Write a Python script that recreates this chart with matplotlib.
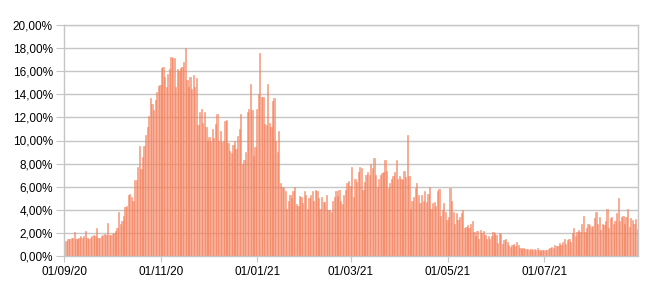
import matplotlib
matplotlib.use("Agg")
import matplotlib.pyplot as plt
import matplotlib.dates as mdates
import numpy as np
import pandas as pd
from matplotlib.ticker import FuncFormatter, MultipleLocator

# daily positivity rate (%), one list per month, Sep 2020 -> Aug 2021
sep20 = [1.3, 1.3, 1.5, 1.5, 1.6, 1.6, 2.1, 1.5, 1.5, 1.6, 1.7, 1.6, 1.7, 2.2, 1.6,
         1.5, 1.6, 1.7, 1.8, 1.7, 2.4, 1.6, 1.6, 1.7, 1.8, 1.9, 1.8, 2.9, 1.8, 1.8]
oct20 = [1.9, 2.0, 2.2, 2.4, 3.8, 2.8, 3.0, 3.5, 4.2, 4.3, 5.3, 5.4, 5.1, 4.8, 6.6,
         6.6, 7.7, 9.5, 7.5, 8.6, 9.5, 10.5, 11.2, 12.1, 13.7, 13.2, 12.6, 13.5, 14.2,
         14.7, 14.8]
nov20 = [16.3, 16.4, 15.5, 14.6, 15.8, 16.2, 17.2, 17.1, 17.1, 14.6, 16.2, 16.0, 16.3,
         16.4, 16.8, 18.0, 15.2, 14.6, 15.5, 14.5, 15.7, 14.6, 15.4, 11.3, 12.5, 12.7,
         11.5, 12.5, 11.2, 10.0]
dec20 = [10.3, 10.0, 11.0, 10.2, 11.4, 12.3, 10.0, 10.8, 9.9, 10.0, 11.7, 11.8, 9.8,
         9.1, 8.9, 9.6, 10.0, 9.3, 10.4, 11.0, 12.3, 8.0, 8.3, 9.0, 12.5, 12.7, 14.9,
         12.6, 8.7, 9.4, 12.7]
jan21 = [14.0, 17.6, 13.8, 13.8, 11.4, 11.3, 14.9, 11.5, 11.2, 13.4, 13.7, 10.0, 9.0,
         10.8, 6.3, 6.0, 5.9, 5.6, 4.1, 4.8, 5.3, 5.0, 5.6, 6.0, 4.5, 4.3, 5.2, 5.1,
         4.6, 5.6, 5.3]
feb21 = [4.1, 5.0, 5.3, 5.6, 4.8, 5.7, 5.6, 5.0, 4.1, 5.1, 4.7, 4.7, 5.3, 4.0, 4.0,
         3.8, 4.8, 5.1, 5.6, 5.2, 5.7, 4.8, 4.5, 5.3, 5.7, 6.3, 6.5, 6.1]
mar21 = [7.7, 5.1, 6.7, 6.4, 7.3, 7.7, 7.6, 5.7, 6.4, 7.0, 7.3, 7.0, 8.0, 7.6, 8.5,
         7.0, 6.0, 6.7, 7.0, 7.2, 7.3, 8.3, 7.4, 5.9, 6.3, 6.7, 6.9, 7.3, 8.3, 6.7, 6.9]
apr21 = [6.7, 6.6, 7.4, 6.8, 10.5, 6.9, 4.1, 4.8, 5.1, 5.9, 6.3, 5.3, 4.6, 5.3, 4.8,
         5.6, 4.7, 5.4, 6.0, 4.1, 4.6, 4.7, 4.3, 5.6, 5.8, 3.5, 4.0, 4.6, 3.8, 3.1]
may21 = [3.4, 5.9, 4.8, 3.8, 2.8, 3.7, 3.1, 3.4, 3.7, 4.0, 2.4, 2.5, 2.7, 2.4, 2.8,
         3.0, 2.1, 1.7, 2.2, 1.5, 2.25, 2.0, 2.2, 1.8, 1.5, 1.7, 1.5, 1.7, 2.1, 2.0, 1.8]
jun21 = [1.1, 2.0, 1.9, 1.0, 1.4, 1.5, 1.2, 0.95, 0.8, 0.95, 1.0, 0.9, 1.2, 0.95, 0.7,
         0.6, 0.66, 0.6, 0.6, 0.63, 0.5, 0.58, 0.5, 0.6, 0.5, 0.66, 0.5, 0.46, 0.5, 0.48]
jul21 = [0.5, 0.55, 0.6, 0.7, 0.8, 0.66, 0.95, 0.87, 0.9, 1.1, 0.95, 1.25, 1.5, 1.0,
         1.4, 1.5, 1.2, 2.0, 2.4, 1.7, 2.1, 2.25, 2.1, 2.8, 3.5, 2.1, 2.4, 2.8, 2.7,
         2.5, 2.6]
aug21 = [3.3, 3.8, 2.8, 3.4, 2.25, 2.8, 2.7, 3.0, 4.1, 2.4, 3.3, 3.4, 2.8, 3.0, 3.7,
         5.0, 3.0, 3.4, 3.5, 2.8, 3.4, 4.1, 2.5, 3.3, 3.1, 2.8, 3.2, 2.3]

tick_dates = ["2020-09-01", "2020-11-01", "2021-01-01", "2021-03-01", "2021-05-01", "2021-07-01"]

values = sep20 + oct20 + nov20 + dec20 + jan21 + feb21 + mar21 + apr21 + may21 + jun21 + jul21 + aug21
days = pd.date_range("2020-09-01", periods=len(values), freq="D")

plt.rcParams["font.family"] = ["Liberation Sans", "DejaVu Sans"]
grid_col = "#c6c6c6"

fig = plt.figure(figsize=(6.5, 2.91), dpi=100)
ax = fig.add_axes([64 / 650, 1 - 256 / 291, 574 / 650, 231 / 291])

# bars are see-through so the gridlines show across them, as in the original
x = mdates.date2num(days)
ax.bar(x + 0.1, values, width=0.8, align="edge",
       color="#f68c6a", edgecolor="#f27a55", linewidth=0.45, alpha=0.7, zorder=2)

ax.set_xlim(x[0], x[-1] + 1)
ax.set_ylim(0, 20)
ax.yaxis.set_major_locator(MultipleLocator(2))
ax.yaxis.set_major_formatter(FuncFormatter(lambda v, p: f"{v:.2f}%".replace(".", ",")))
ax.set_xticks(mdates.date2num(pd.to_datetime(tick_dates)))
ax.xaxis.set_major_formatter(mdates.DateFormatter("%d/%m/%y"))

ax.grid(axis="y", color=grid_col, linewidth=1.0, zorder=0)
ax.set_axisbelow(True)
for side in ["left", "right", "top", "bottom"]:
    ax.spines[side].set_color(grid_col)
    ax.spines[side].set_linewidth(1.0)
ax.tick_params(axis="y", length=6, color=grid_col, labelsize=8.5, pad=2)
ax.tick_params(axis="x", length=4, color=grid_col, labelsize=8.5, pad=3)

fig.savefig("out.png", dpi=100)
